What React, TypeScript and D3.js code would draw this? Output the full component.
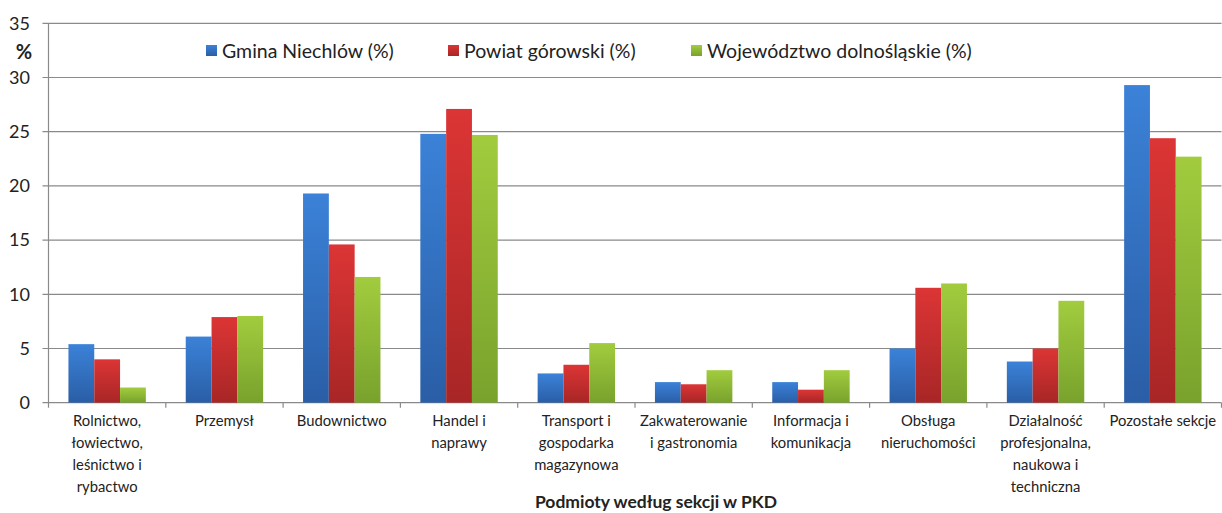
import React from "react";
import * as d3 from "d3";

const categories: string[][] = [
  ["Rolnictwo,", "łowiectwo,", "leśnictwo i", "rybactwo"],
  ["Przemysł"],
  ["Budownictwo"],
  ["Handel i", "naprawy"],
  ["Transport i", "gospodarka", "magazynowa"],
  ["Zakwaterowanie", "i gastronomia"],
  ["Informacja i", "komunikacja"],
  ["Obsługa", "nieruchomości"],
  ["Działalność", "profesjonalna,", "naukowa i", "techniczna"],
  ["Pozostałe sekcje"],
];

const seriesNames = ["Gmina Niechlów (%)", "Powiat górowski (%)", "Województwo dolnośląskie (%)"];
const gmina = [5.4, 6.1, 19.3, 24.8, 2.7, 1.9, 1.9, 5.0, 3.8, 29.3];
const powiat = [4.0, 7.9, 14.6, 27.1, 3.5, 1.7, 1.2, 10.6, 5.0, 24.4];
const wojewodztwo = [1.4, 8.0, 11.6, 24.7, 5.5, 3.0, 3.0, 11.0, 9.4, 22.7];
const yTicks = [0, 5, 10, 15, 20, 25, 30, 35];

const seriesData = [gmina, powiat, wojewodztwo];
const gradients = [
  ["#3b82d8", "#2a5ea6"],
  ["#dc3535", "#a82626"],
  ["#a2cc3e", "#78a22c"],
];
const legendX = [206, 448, 691];

export default function App() {
  const W = 1222;
  const H = 513;
  const left = 48.5;
  const right = 1221.5;
  const top = 23.3;
  const bottom = 402.7;
  const font = "Lato, 'Open Sans', sans-serif";

  const y = d3.scaleLinear().domain([0, 35]).range([bottom, top]);
  const x0 = d3
    .scaleBand<number>()
    .domain(categories.map((_, i) => i))
    .range([left, right])
    .paddingInner(0.34)
    .paddingOuter(0.17);
  const x1 = d3
    .scaleBand<number>()
    .domain([0, 1, 2])
    .range([0, x0.bandwidth()])
    .padding(0);
  const step = x0.step();

  return (
    <svg
      width={W}
      height={H}
      style={{ position: "absolute", left: 0, top: 0, background: "#fff" }}
    >
      <defs>
        {gradients.map((g, i) => (
          <linearGradient key={i} id={`g${i}`} x1="0" y1="0" x2="0" y2="1">
            <stop offset="0%" stopColor={g[0]} />
            <stop offset="100%" stopColor={g[1]} />
          </linearGradient>
        ))}
      </defs>
      {yTicks.map((t) => (
        <line
          key={t}
          x1={left - 6}
          x2={right}
          y1={y(t)}
          y2={y(t)}
          stroke="#8a8a8a"
          strokeWidth={1.2}
        />
      ))}
      <line x1={left} x2={left} y1={top} y2={bottom} stroke="#8a8a8a" strokeWidth={1.2} />
      {d3.range(categories.length + 1).map((i) => (
        <line
          key={i}
          x1={left + i * step}
          x2={left + i * step}
          y1={bottom}
          y2={bottom + 5}
          stroke="#8a8a8a"
          strokeWidth={1.2}
        />
      ))}
      {yTicks.map((t) => (
        <text
          key={t}
          x={30}
          y={y(t)}
          dy="0.35em"
          textAnchor="end"
          fontFamily={font}
          fontSize={18}
          fill="#222"
        >
          {t}
        </text>
      ))}
      <text x={24} y={52} dy="0.35em" textAnchor="middle" fontFamily={font} fontSize={20} fontWeight="bold" fill="#222">
        %
      </text>
      {seriesData.map((vals, s) =>
        vals.map((v, i) => (
          <rect
            key={`${s}-${i}`}
            x={(x0(i) as number) + (x1(s) as number)}
            y={y(v)}
            width={x1.bandwidth()}
            height={bottom - y(v)}
            fill={`url(#g${s})`}
          />
        ))
      )}
      {seriesNames.map((n, s) => (
        <g key={n}>
          <rect x={legendX[s]} y={45} width={11} height={11} fill={`url(#g${s})`} />
          <text x={legendX[s] + 16} y={51} dy="0.35em" fontFamily={font} fontSize={19.5} fill="#222">
            {n}
          </text>
        </g>
      ))}
      {categories.map((lines, i) => (
        <text
          key={i}
          x={(x0(i) as number) + x0.bandwidth() / 2}
          textAnchor="middle"
          fontFamily={font}
          fontSize={14.8}
          fill="#222"
        >
          {lines.map((l, k) => (
            <tspan key={k} x={(x0(i) as number) + x0.bandwidth() / 2} y={426 + k * 22}>
              {l}
            </tspan>
          ))}
        </text>
      ))}
      <text x={656} y={508} textAnchor="middle" fontFamily={font} fontSize={17.5} fontWeight="bold" fill="#222">
        Podmioty według sekcji w PKD
      </text>
    </svg>
  );
}
